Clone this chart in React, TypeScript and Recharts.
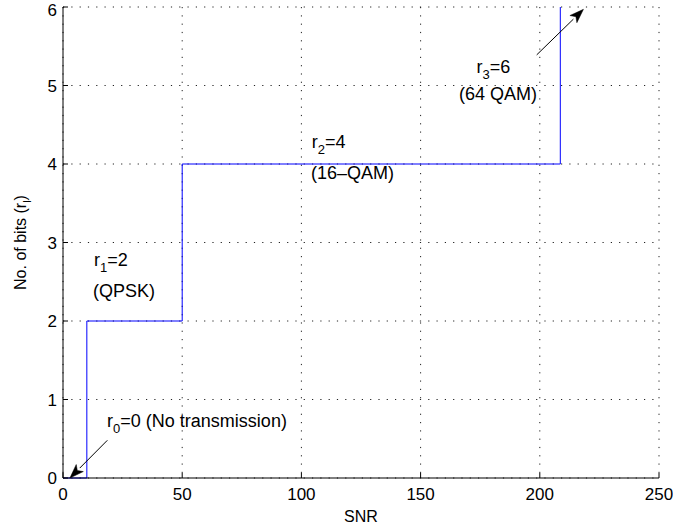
import {
  CartesianGrid,
  Line,
  LineChart,
  ReferenceDot,
  ReferenceLine,
  XAxis,
  YAxis,
} from "recharts";

// step thresholds (SNR) and bits per symbol
const snrSteps = [0, 10, 50, 208.6];
const bitSteps = [0, 2, 4, 6];

const xTicks = [0, 50, 100, 150, 200, 250];
const yTicks = [0, 1, 2, 3, 4, 5, 6];

// annotation text: position in data units, then "r", subscript, rest
const noteLines = [
  { x: 18.5, y: 0.65, main: "r", sub: "0", rest: "=0 (No transmission)" },
  { x: 13.0, y: 2.7, main: "r", sub: "1", rest: "=2" },
  { x: 12.6, y: 2.31, main: "(QPSK)", sub: "", rest: "" },
  { x: 104.3, y: 4.2, main: "r", sub: "2", rest: "=4" },
  { x: 104.0, y: 3.81, main: "(16–QAM)", sub: "", rest: "" },
  { x: 173.5, y: 5.16, main: "r", sub: "3", rest: "=6" },
  { x: 166.1, y: 4.82, main: "(64 QAM)", sub: "", rest: "" },
];

// arrows: from -> to (tip), data units
const arrows = [
  { x1: 18.6, y1: 0.48, x2: 2.9, y2: 0 },
  { x1: 198.7, y1: 5.39, x2: 218.3, y2: 5.97 },
];

const data = snrSteps.map((snr, i) => ({ snr, bits: bitSteps[i] }));

const FONT = "'Liberation Sans', Arial, Helvetica, sans-serif";
const tickStyle = { fill: "#000", fontSize: 17, fontFamily: FONT };

function NoteText(props: any) {
  const { cx, cy, note } = props;
  return (
    <text x={cx} y={cy} fontFamily={FONT} fontSize={18} fill="#000">
      <tspan>{note.main}</tspan>
      {note.sub && (
        <tspan dy={6} fontSize={13}>
          {note.sub}
        </tspan>
      )}
      {note.rest && <tspan dy={note.sub ? -6 : 0}>{note.rest}</tspan>}
    </text>
  );
}

function Arrow(props: any) {
  const { x1, y1, x2, y2 } = props;
  const dx = x2 - x1;
  const dy = y2 - y1;
  const len = Math.sqrt(dx * dx + dy * dy) || 1;
  const ux = dx / len;
  const uy = dy / len;
  const hl = 14;
  const hw = 5;
  const bx = x2 - ux * hl;
  const by = y2 - uy * hl;
  const pts = [
    [x2, y2],
    [bx - uy * hw, by + ux * hw],
    [x2 - ux * hl * 0.75, y2 - uy * hl * 0.75],
    [bx + uy * hw, by - ux * hw],
  ]
    .map((p) => p.join(","))
    .join(" ");
  return (
    <g>
      <line x1={x1} y1={y1} x2={bx} y2={by} stroke="#000" strokeWidth={1} />
      <polygon points={pts} fill="#000" stroke="#000" strokeWidth={0.5} />
    </g>
  );
}

function YLabel(props: any) {
  const { viewBox } = props;
  const cx = 26;
  const cy = viewBox.y + viewBox.height / 2;
  return (
    <text
      x={cx}
      y={cy}
      transform={`rotate(-90, ${cx}, ${cy})`}
      textAnchor="middle"
      fontFamily={FONT}
      fontSize={16}
      fill="#000"
    >
      <tspan>No. of bits (r</tspan>
      <tspan dy={5} fontSize={11}>
        l
      </tspan>
      <tspan dy={-5}>)</tspan>
    </text>
  );
}

export default function App() {
  return (
    <div style={{ position: "absolute", left: 0, top: 0, background: "#fff" }}>
      <LineChart
        width={673}
        height={527}
        data={data}
        margin={{ top: 7, right: 14, bottom: 0, left: 0 }}
      >
        <CartesianGrid
          stroke="#222"
          strokeDasharray="1.2 7.1"
          horizontalValues={yTicks}
          verticalValues={xTicks}
        />
        <XAxis
          dataKey="snr"
          type="number"
          domain={[0, 250]}
          ticks={xTicks}
          height={49}
          tick={tickStyle}
          tickSize={-5}
          tickMargin={15}
          stroke="#000"
          label={{
            value: "SNR",
            position: "insideBottom",
            offset: 5,
            fill: "#000",
            fontSize: 16,
            fontFamily: FONT,
          }}
        />
        <XAxis
          xAxisId="top"
          orientation="top"
          type="number"
          domain={[0, 250]}
          ticks={xTicks}
          height={0}
          tick={false}
          tickSize={-5}
          stroke="#000"
        />
        <YAxis
          type="number"
          domain={[0, 6]}
          ticks={yTicks}
          width={63}
          tick={tickStyle}
          tickSize={-5}
          tickMargin={11}
          stroke="#000"
          label={{ content: <YLabel /> }}
        />
        <YAxis
          yAxisId="right"
          orientation="right"
          type="number"
          domain={[0, 6]}
          ticks={yTicks}
          width={0}
          tick={false}
          tickSize={-5}
          stroke="#000"
        />
        <Line
          dataKey="bits"
          type="stepAfter"
          stroke="#0000ff"
          strokeWidth={1}
          dot={false}
          activeDot={false}
          isAnimationActive={false}
        />
        {arrows.map((a, i) => (
          <ReferenceLine
            key={"a" + i}
            segment={[
              { x: a.x1, y: a.y1 },
              { x: a.x2, y: a.y2 },
            ]}
            ifOverflow="visible"
            shape={(p: any) => <Arrow {...p} />}
          />
        ))}
        {noteLines.map((n, i) => (
          <ReferenceDot
            key={"n" + i}
            x={n.x}
            y={n.y}
            r={0}
            ifOverflow="visible"
            shape={(p: any) => <NoteText {...p} note={n} />}
          />
        ))}
      </LineChart>
    </div>
  );
}
